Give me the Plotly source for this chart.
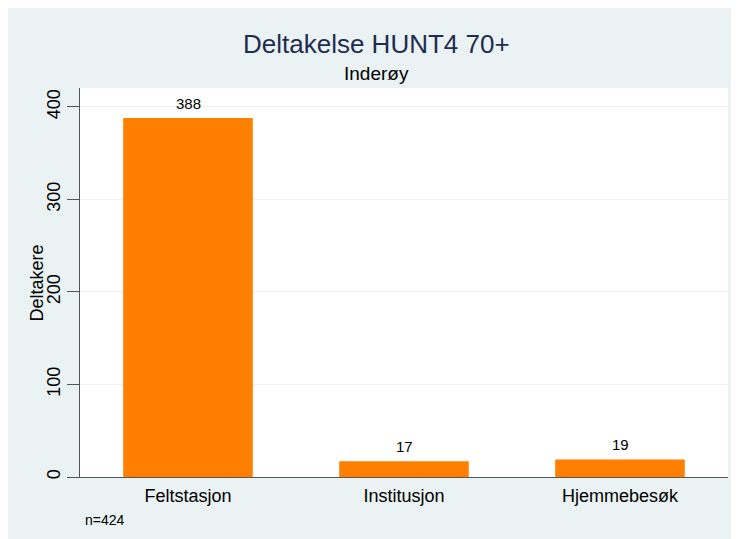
"""Deltakelse HUNT4 70+ - Inderøy, bar chart in Stata style."""

import plotly.graph_objects as go

categories = ["Feltstasjon", "Institusjon", "Hjemmebesøk"]
deltakere = [388, 17, 19]
y_ticks = [0, 100, 200, 300, 400]
n_total = 424

FONT = "Liberation Sans, Arial, Helvetica, sans-serif"
BG = "#EAF2F3"
BAR = "#FF7F00"
NAVY = "#1E2D4F"

fig = go.Figure()
fig.add_trace(go.Bar(
    x=categories, y=deltakere,
    marker_color=BAR, marker_line_width=0,
))

fig.update_layout(
    width=747, height=549,
    margin=dict(l=72, r=27, t=80, b=80),
    paper_bgcolor=BG, plot_bgcolor="white",
    font=dict(family=FONT, color="black"),
    bargap=0.4,
    showlegend=False,
)

fig.update_xaxes(
    range=[-0.5, 2.5],
    showline=True, linecolor="#555555", linewidth=1,
    showgrid=False, ticks="",
    tickfont=dict(size=18),
    ticklabelstandoff=2,
)
fig.update_yaxes(
    range=[0, 420.5],
    tickvals=y_ticks, tickangle=-90,
    ticks="outside", ticklen=12, tickcolor="#555555",
    tickfont=dict(size=18),
    showline=True, linecolor="#555555", linewidth=1,
    showgrid=True, gridcolor=BG, gridwidth=1,
    zeroline=False,
)

# value labels above bars
for cat, val in zip(categories, deltakere):
    fig.add_annotation(text=str(val), x=cat, y=val, xref="x", yref="y",
                       xanchor="center", yanchor="bottom", yshift=4,
                       showarrow=False, font=dict(size=15, color="black"))

fig.add_annotation(text="Deltakere", xref="paper", yref="paper",
                   x=-0.0664, y=0.5, xanchor="center", yanchor="middle",
                   textangle=-90, showarrow=False, font=dict(size=18, color="black"))
fig.add_annotation(text="Deltakelse HUNT4 70+", xref="paper", yref="paper",
                   x=0.4568, y=1.1131, xanchor="center", yanchor="middle",
                   showarrow=False, font=dict(size=26, color=NAVY))
fig.add_annotation(text="Inderøy", xref="paper", yref="paper",
                   x=0.4576, y=1.0374, xanchor="center", yanchor="middle",
                   showarrow=False, font=dict(size=19, color="black"))
fig.add_annotation(text=f"n={n_total}", xref="paper", yref="paper",
                   x=0.0046, y=-0.1104, xanchor="left", yanchor="middle",
                   showarrow=False, font=dict(size=14, color="black"))

fig.write_html("out.html")
